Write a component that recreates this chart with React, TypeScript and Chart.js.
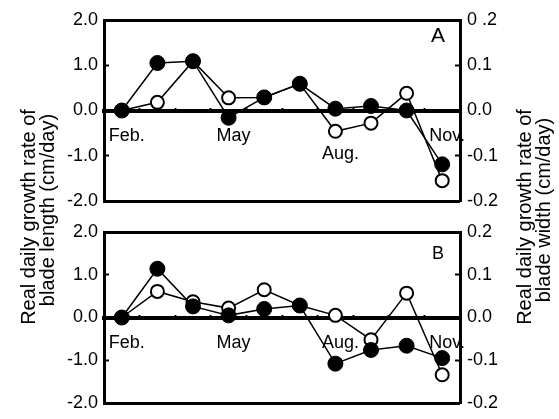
import React, { useEffect, useRef } from 'react';
import { Chart, registerables } from 'chart.js';

Chart.register(...registerables);

// ---- data ----
const months = ['Feb.', 'Mar.', 'Apr.', 'May', 'Jun.', 'Jul.', 'Aug.', 'Sep.', 'Oct.', 'Nov.'];
const shownMonths = ['Feb.', 'May', 'Aug.', 'Nov.'];

// Panel A: blade length (left axis, filled) and blade width (right axis, open)
const lengthA = [0.0, 1.05, 1.09, -0.16, 0.29, 0.59, 0.04, 0.1, 0.0, -1.19];
const widthA = [0.0, 0.018, 0.109, 0.028, 0.029, 0.059, -0.046, -0.028, 0.038, -0.155];

// Panel B
const lengthB = [0.0, 1.14, 0.26, 0.05, 0.2, 0.28, -1.08, -0.76, -0.66, -0.95];
const widthB = [0.0, 0.061, 0.037, 0.022, 0.065, 0.028, 0.005, -0.052, 0.057, -0.134];

const lengthTickLabels = ['-2.0', '-1.0', '0.0', '1.0', '2.0'];
const widthTickLabelsA = ['-0.2', '-0.1', '0.0', '0.1', '0 .2'];
const widthTickLabelsB = ['-0.2', '-0.1', '0.0', '0.1', '0.2'];

const titleLine1 = 'Real daily growth rate of';
const leftTitleLine2 = 'blade length (cm/day)';
const rightTitleLine2 = 'blade width (cm/day)';

const FONT = 'Arial, "Liberation Sans", Helvetica, sans-serif';
const BLACK = '#000000';
const NONE = 'rgba(0,0,0,0)';

type PanelProps = {
  letter: string;
  length: number[];
  width: number[];
  rightLabels: string[];
  lowerAug: boolean;
  top: number;
  height: number;
  padTop: number;
  padBottom: number;
  letterSize: number;
  letterDy: number;
};

function Panel(p: PanelProps) {
  const ref = useRef<HTMLCanvasElement | null>(null);
  useEffect(() => {
    if (!ref.current) return;
    Chart.defaults.font.family = FONT;
    Chart.defaults.color = BLACK;
    const letterPlugin = {
      id: 'panelLetter',
      afterDraw(chart: any) {
        const { ctx, chartArea } = chart;
        ctx.save();
        ctx.fillStyle = BLACK;
        ctx.font = `${p.letterSize}px ${FONT}`;
        ctx.textAlign = 'center';
        ctx.textBaseline = 'middle';
        ctx.fillText(p.letter, chartArea.right - 22, chartArea.top + p.letterDy);
        ctx.restore();
      },
    };
    const chart = new Chart(ref.current, {
      type: 'line',
      data: {
        labels: months,
        datasets: [
          {
            label: 'length',
            data: p.length,
            yAxisID: 'y',
            borderColor: BLACK,
            borderWidth: 1.5,
            pointRadius: 7.5,
            pointBorderWidth: 1,
            pointBackgroundColor: BLACK,
            pointBorderColor: BLACK,
            tension: 0,
          },
          {
            label: 'width',
            data: p.width,
            yAxisID: 'y1',
            borderColor: BLACK,
            borderWidth: 1.5,
            pointRadius: 6.5,
            pointBorderWidth: 2,
            pointBackgroundColor: '#ffffff',
            pointBorderColor: BLACK,
            tension: 0,
          },
        ],
      },
      options: {
        animation: false,
        responsive: false,
        devicePixelRatio: 1,
        layout: { padding: { top: p.padTop, bottom: p.padBottom, left: 0, right: 0 } },
        plugins: { legend: { display: false }, tooltip: { enabled: false }, title: { display: false } },
        scales: {
          x: {
            type: 'category',
            position: { y: 0 } as any,
            offset: true,
            grid: {
              offset: true,
              drawOnChartArea: false,
              drawTicks: true,
              tickLength: -5,
              tickWidth: 2,
              tickColor: (c: any) => (typeof c.index === 'number' && c.index > 0 ? BLACK : NONE),
            },
            border: { display: true, color: BLACK, width: 4 },
            ticks: {
              autoSkip: false,
              maxRotation: 0,
              minRotation: 0,
              padding: 22,
              labelOffset: 5,
              font: { size: 18, lineHeight: 1.0 },
              color: BLACK,
              callback: (_v: any, i: number) => {
                const m = months[i];
                if (!shownMonths.includes(m)) return '';
                if (p.lowerAug && m === 'Aug.') return ['', m];
                return m;
              },
            },
            afterFit: (s: any) => {
              s.paddingTop = 0;
              s.paddingBottom = 0;
            },
          },
          y: {
            type: 'linear',
            position: 'left',
            min: -2,
            max: 2,
            ticks: {
              stepSize: 1,
              padding: 11,
              font: { size: 18 },
              color: BLACK,
              callback: (_v: any, i: number) => lengthTickLabels[i],
            },
            grid: {
              drawOnChartArea: true,
              lineWidth: 3,
              color: (c: any) => (c.tick && Math.abs(Math.abs(c.tick.value) - 2) < 1e-6 ? BLACK : NONE),
              tickLength: -5,
              tickWidth: 2,
              tickColor: (c: any) => (c.tick && Math.abs(Math.abs(c.tick.value) - 1) < 1e-6 ? BLACK : NONE),
            },
            border: { display: true, color: BLACK, width: 3 },
            afterFit: (s: any) => {
              s.width = 104;
              s.paddingTop = 0;
              s.paddingBottom = 0;
            },
          },
          y1: {
            type: 'linear',
            position: 'right',
            min: -0.2,
            max: 0.2,
            ticks: {
              stepSize: 0.1,
              padding: 12,
              font: { size: 18 },
              color: BLACK,
              callback: (_v: any, i: number) => p.rightLabels[i],
            },
            grid: {
              drawOnChartArea: false,
              tickLength: -5,
              tickWidth: 2,
              tickColor: (c: any) => (c.tick && Math.abs(Math.abs(c.tick.value) - 0.1) < 1e-6 ? BLACK : NONE),
            },
            border: { display: true, color: BLACK, width: 3 },
            afterFit: (s: any) => {
              s.width = 99;
              s.paddingTop = 0;
              s.paddingBottom = 0;
            },
          },
        },
      } as any,
      plugins: [letterPlugin],
    });
    return () => chart.destroy();
  }, []);
  return (
    <canvas
      ref={ref}
      width={559}
      height={p.height}
      style={{ position: 'absolute', left: 0, top: p.top, width: 559, height: p.height }}
    />
  );
}

function VTitle({ text, cx, cy }: { text: string; cx: number; cy: number }) {
  return (
    <div
      style={{
        position: 'absolute',
        left: cx - 150,
        top: cy - 12,
        width: 300,
        height: 24,
        lineHeight: '24px',
        fontSize: 20,
        fontFamily: FONT,
        color: BLACK,
        textAlign: 'center',
        whiteSpace: 'nowrap',
        transform: 'rotate(-90deg)',
      }}
    >
      {text}
    </div>
  );
}

export default function App() {
  return (
    <div style={{ position: 'absolute', left: 0, top: 0, width: 559, height: 419, background: '#fff', overflow: 'hidden' }}>
      <Panel
        letter="A"
        length={lengthA}
        width={widthA}
        rightLabels={widthTickLabelsA}
        lowerAug={true}
        top={0}
        height={215}
        padTop={20}
        padBottom={14}
        letterSize={21}
        letterDy={16}
      />
      <Panel
        letter="B"
        length={lengthB}
        width={widthB}
        rightLabels={widthTickLabelsB}
        lowerAug={false}
        top={215}
        height={204}
        padTop={17}
        padBottom={16}
        letterSize={18}
        letterDy={22}
      />
      <VTitle text={titleLine1} cx={27.5} cy={217} />
      <VTitle text={leftTitleLine2} cx={46.5} cy={210} />
      <VTitle text={titleLine1} cx={523.5} cy={217} />
      <VTitle text={rightTitleLine2} cx={542.5} cy={210} />
    </div>
  );
}
